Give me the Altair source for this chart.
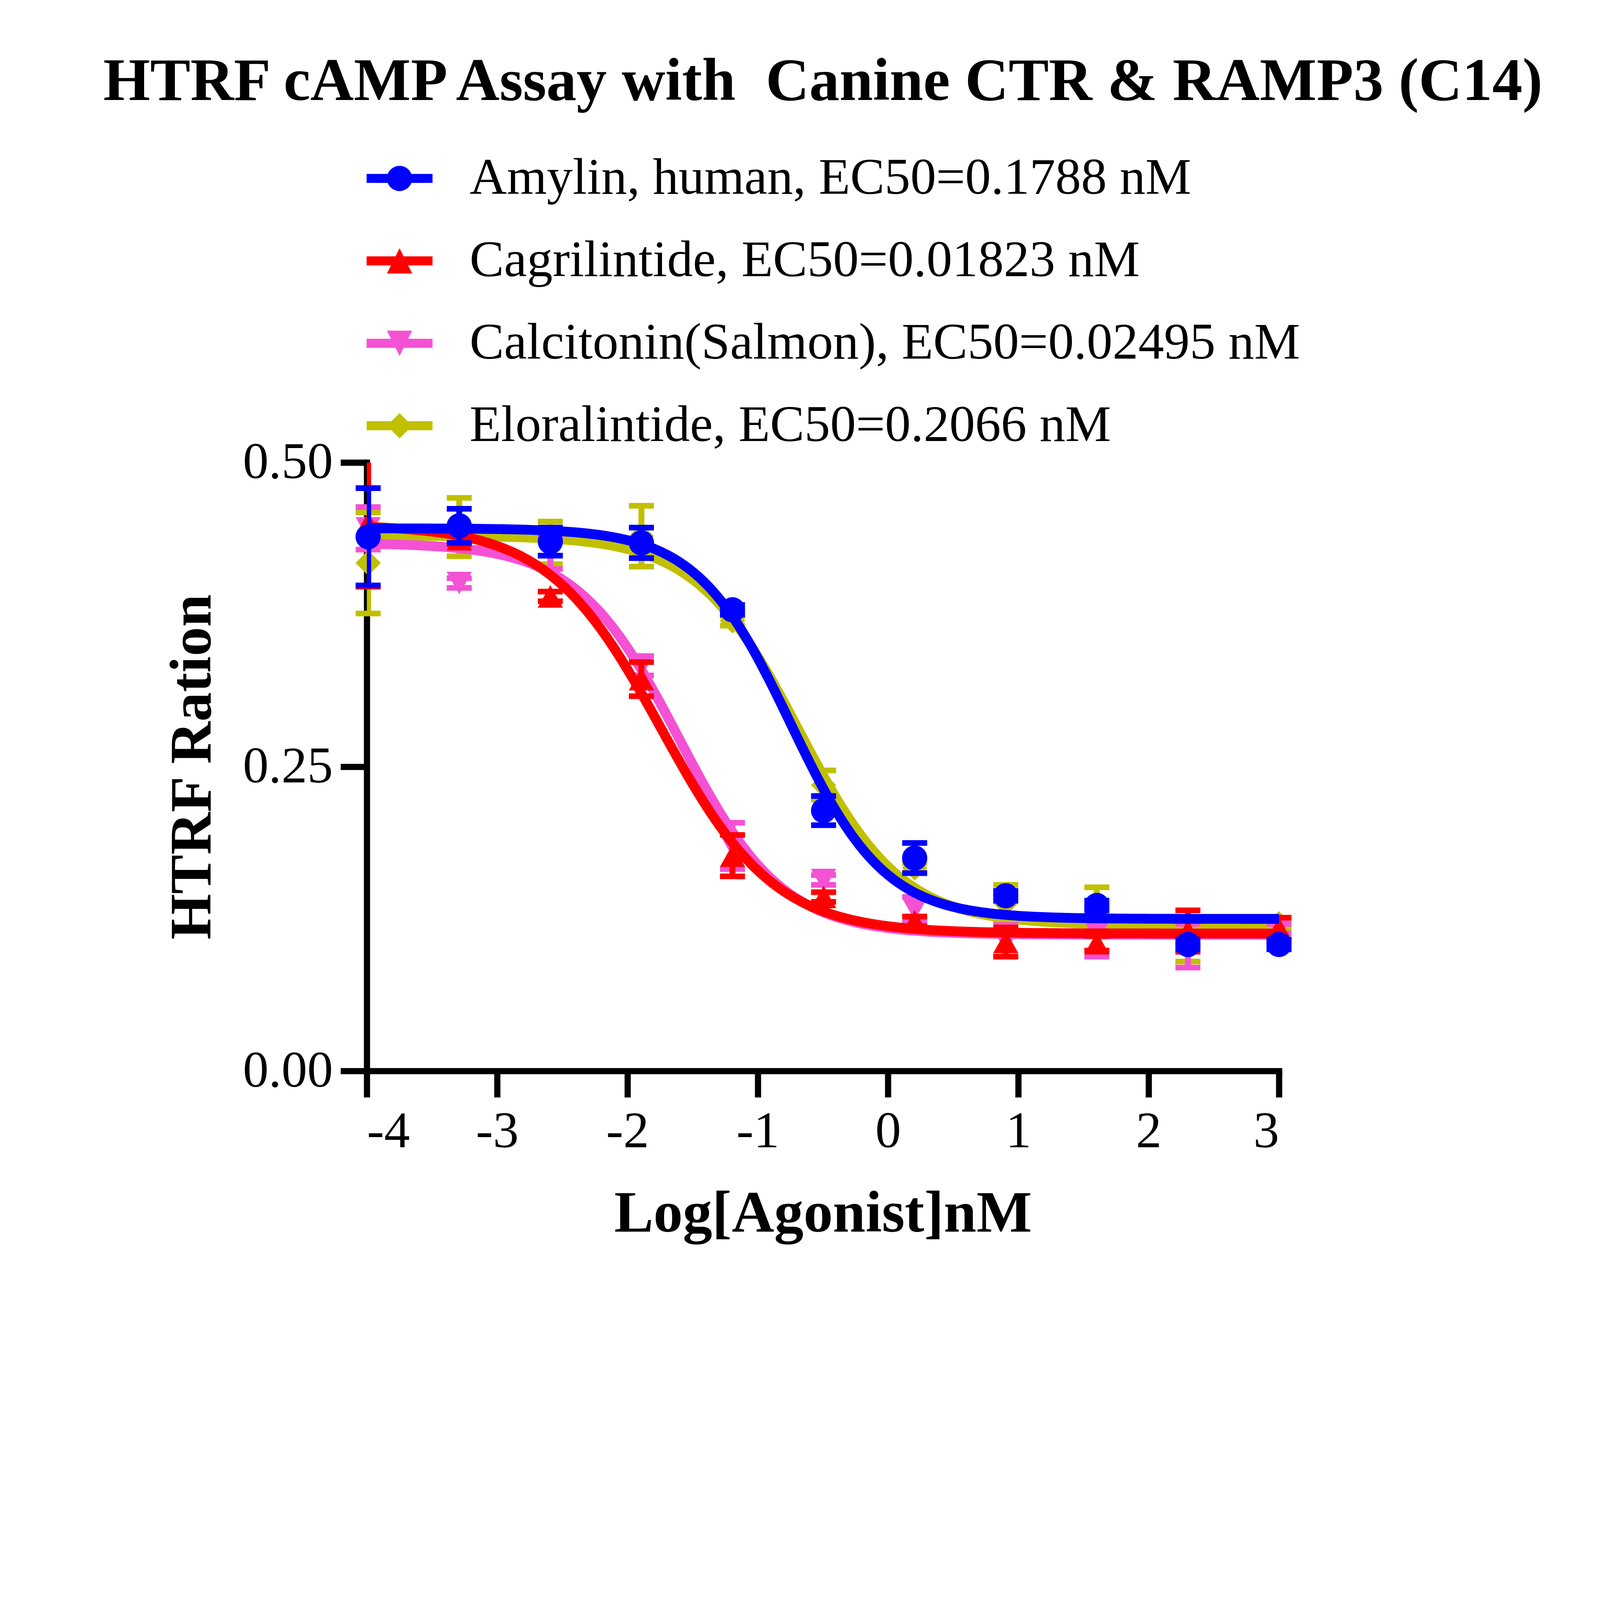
import altair as alt
import pandas as pd

# ---- data ------------------------------------------------------------------
compounds = [
    "Amylin, human, EC50=0.1788 nM",
    "Cagrilintide, EC50=0.01823 nM",
    "Calcitonin(Salmon), EC50=0.02495 nM",
    "Eloralintide, EC50=0.2066 nM",
]
colors = ["#0000FF", "#FF0000", "#F451D5", "#C0C000"]

# 5-fold dilution series, log10 nM
log_conc = [-3.990, -3.291, -2.592, -1.893, -1.194, -0.495, 0.204, 0.903, 1.602, 2.301, 3.000]

amylin_mean = [0.439, 0.448, 0.435, 0.434, 0.379, 0.214, 0.175, 0.144, 0.136, 0.104, 0.104]
amylin_sem = [0.040, 0.014, 0.0115, 0.0125, 0.004, 0.012, 0.0124, 0.004, 0.004, 0.004, 0.004]

cagri_mean = [0.450, 0.437, 0.390, 0.322, 0.177, 0.143, 0.123, 0.106, 0.105, 0.115, 0.117]
cagri_sem = [0.052, 0.004, 0.004, 0.014, 0.017, 0.004, 0.004, 0.012, 0.006, 0.017, 0.009]

calci_mean = [0.446, 0.401, 0.426, 0.333, 0.185, 0.157, 0.133, 0.107, 0.114, 0.103, 0.117]
calci_sem = [0.0175, 0.004, 0.0135, 0.008, 0.019, 0.004, 0.010, 0.013, 0.020, 0.018, 0.004]

elora_mean = [0.4175, 0.447, 0.434, 0.4395, 0.370, 0.235, 0.167, 0.138, 0.133, 0.107, 0.121]
elora_sem = [0.0415, 0.024, 0.0175, 0.025, 0.004, 0.012, 0.004, 0.015, 0.018, 0.017, 0.004]

# four-parameter fit (EC50 from the legend, plateaus/slopes)
fit_ec50 = [0.1788, 0.01823, 0.02495, 0.2066]
fit_top = [0.446, 0.449, 0.434, 0.440]
fit_bottom = [0.125, 0.113, 0.112, 0.120]
fit_hill = [1.20, 1.00, 1.10, 1.10]

means = [amylin_mean, cagri_mean, calci_mean, elora_mean]
sems = [amylin_sem, cagri_sem, calci_sem, elora_sem]

marker_shapes = [
    "circle",
    "M0,-0.89L1,0.89L-1,0.89Z",
    "M0,0.89L-1,-0.89L1,-0.89Z",
    "diamond",
]
# legend symbol = short bar with the marker on it
bar = "M-2.61,-0.357H2.61V0.357H-2.61Z "
legend_shapes = [
    bar + "M1,0A1,1 0 1,1 -1,0A1,1 0 1,1 1,0Z",
    bar + "M0,-1L1,1L-1,1Z",
    bar + "M0,1L-1,-1L1,-1Z",
    bar + "M0,-1L1,0L0,1L-1,0Z",
]

points = pd.DataFrame(
    [
        {"compound": c, "logc": x, "mean": m, "sem": s}
        for c, ms, ss in zip(compounds, means, sems)
        for x, m, s in zip(log_conc, ms, ss)
    ]
)
fits = pd.DataFrame(
    {"compound": compounds, "ec50": fit_ec50, "top": fit_top,
     "bottom": fit_bottom, "hill": fit_hill}
)

FONT = "Liberation Serif"
MARK = 9604  # marker area (98 px across)

x_scale = alt.Scale(domain=[-4, 3], nice=False, zero=False)
y_scale = alt.Scale(domain=[0, 0.5], nice=False)
x_axis = alt.Axis(values=list(range(-4, 4)), labelExpr="datum.value",
                  title="Log[Agonist]nM", labelPadding=36, titlePadding=243)
y_axis = alt.Axis(values=[0, 0.25, 0.5], format=".2f", title="HTRF Ration",
                  labelPadding=30, titlePadding=359)


def X(field):
    return alt.X(field, scale=x_scale, axis=x_axis)


def Y(field):
    return alt.Y(field, scale=y_scale, axis=y_axis)


layers = []
# Prism draws the last data set first, so Amylin ends up on top
for i in [3, 2, 1, 0]:
    name, col = compounds[i], colors[i]
    curve = (
        alt.Chart(fits)
        .transform_filter(alt.datum.compound == name)
        .transform_calculate(lx="sequence(-4, 3.001, 0.02)")
        .transform_flatten(["lx"])
        .transform_calculate(
            resp="datum.bottom + (datum.top - datum.bottom) / "
                 "(1 + pow(10, (datum.lx - log(datum.ec50) / LN10) * datum.hill))"
        )
        .mark_line(color=col, strokeWidth=38)
        .encode(x=X("lx:Q"), y=Y("resp:Q"), order="lx:Q")
    )
    base = (
        alt.Chart(points)
        .transform_filter(alt.datum.compound == name)
        .transform_calculate(lo="datum.mean - datum.sem", hi="datum.mean + datum.sem")
    )
    rules = base.mark_rule(color=col, strokeWidth=23, clip=True).encode(
        x=X("logc:Q"), y=Y("lo:Q"), y2="hi:Q"
    )
    cap_lo = base.mark_tick(color=col, orient="horizontal", size=97,
                            thickness=22, opacity=1).encode(x=X("logc:Q"), y=Y("lo:Q"))
    cap_hi = (
        base.transform_filter("datum.hi <= 0.5")
        .mark_tick(color=col, orient="horizontal", size=97, thickness=22, opacity=1)
        .encode(x=X("logc:Q"), y=Y("hi:Q"))
    )
    dots = base.mark_point(color=col, filled=True, opacity=1, strokeWidth=0,
                           shape=marker_shapes[i], size=MARK).encode(
        x=X("logc:Q"), y=Y("mean:Q")
    )
    layers += [curve, rules, cap_lo, cap_hi, dots]

legend = alt.Legend(
    title=None, orient="none", legendX=27, legendY=-1203, padding=0,
    labelFont=FONT, labelFontSize=200, labelColor="black", labelOffset=172,
    labelLimit=5000, rowPadding=120, symbolSize=MARK, symbolOpacity=1,
    symbolStrokeWidth=0,
)
key = alt.Chart(fits).mark_point(filled=True, opacity=0, size=MARK).encode(
    color=alt.Color("compound:N", scale=alt.Scale(domain=compounds, range=colors),
                    legend=legend),
    shape=alt.Shape("compound:N", scale=alt.Scale(domain=compounds, range=legend_shapes),
                    legend=legend),
)
layers.append(key)

chart = (
    alt.layer(*layers)
    .properties(
        width=3541,
        height=2362,
        autosize="none",
        padding={"left": 1412, "top": 742, "right": 1234, "bottom": 930},
        title=alt.Title(
            "HTRF cAMP Assay with\u00a0 Canine CTR & RAMP3 (C14)",
            font=FONT, fontSize=234, fontWeight="bold", color="black",
            anchor="middle", offset=156,
        ),
    )
    .configure_view(stroke=None)
    .configure_axis(
        grid=False,
        domainColor="black", domainWidth=24, domainCap="square",
        tickColor="black", tickWidth=24, tickSize=102,
        labelFont=FONT, labelFontSize=200, labelColor="black", labelLimit=2000,
        titleFont=FONT, titleFontSize=228, titleFontWeight="bold", titleColor="black",
    )
)

chart.save("out.html", embed_options={"renderer": "svg", "actions": False})
